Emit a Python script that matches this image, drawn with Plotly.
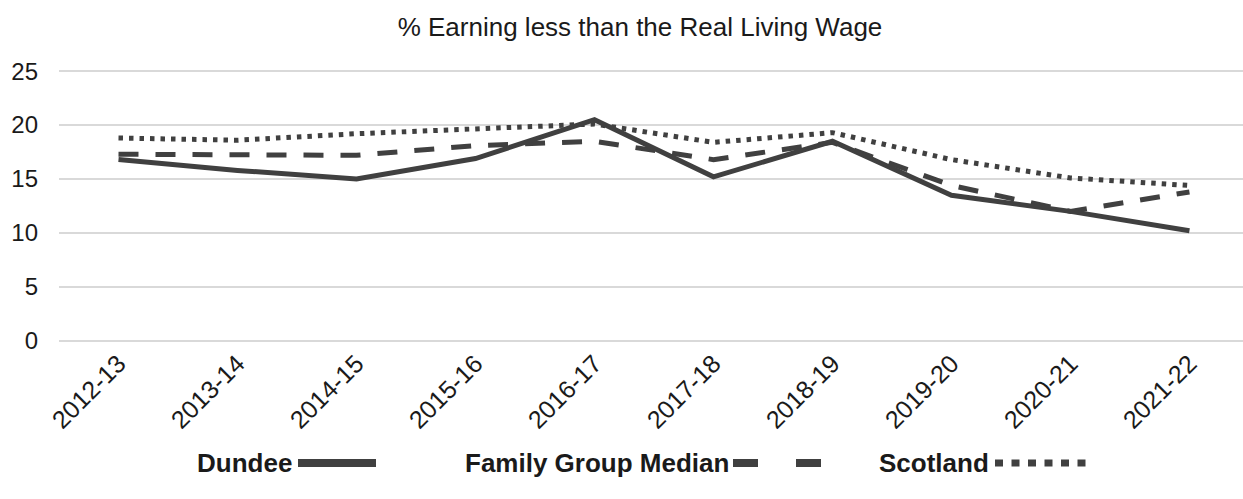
import plotly.graph_objects as go

years = ["2012-13", "2013-14", "2014-15", "2015-16", "2016-17",
         "2017-18", "2018-19", "2019-20", "2020-21", "2021-22"]
dundee = [16.8, 15.8, 15.0, 16.9, 20.5, 15.2, 18.5, 13.5, 12.0, 10.2]
family_median = [17.3, 17.3, 17.2, 18.1, 18.5, 16.8, 18.4, 14.4, 12.0, 13.8]
scotland = [18.8, 18.6, 19.2, 19.6, 20.1, 18.4, 19.3, 16.8, 15.1, 14.4]

line_col = "#404040"
text_col = "#1a1a1a"
font_fam = "Liberation Sans, Arial, sans-serif"

W, H = 1243, 499
T, B = 69, 343            # plot area top / bottom in pixels
PH = B - T

fig = go.Figure()
fig.add_trace(go.Scatter(x=years, y=scotland, mode="lines", name="Scotland",
                         line=dict(color=line_col, width=5, dash="4.5px,6px")))
fig.add_trace(go.Scatter(x=years, y=family_median, mode="lines", name="Family Group Median",
                         line=dict(color=line_col, width=5, dash="20px,17px")))
fig.add_trace(go.Scatter(x=years, y=dundee, mode="lines", name="Dundee",
                         line=dict(color=line_col, width=5)))

# Custom legend (text before symbol, as in the reference)
legend_items = [
    ("Dundee", 294, 298, 376, "solid"),
    ("Family Group Median", 731, 733, 823, "dash"),
    ("Scotland", 991, 995, 1086, "dot"),
]
ly = 463
L0 = 59
PW = W - L0
for text, tx, x0, x1, style in legend_items:
    fig.add_annotation(text="<b>%s</b>" % text, x=(tx - L0) / PW, y=(B - ly) / PH,
                       xref="paper", yref="paper",
                       xanchor="right", yanchor="middle", showarrow=False,
                       font=dict(size=26, color=text_col, family=font_fam))
    dash = {"solid": "solid", "dash": "25px,38px", "dot": "8px,8.5px"}[style]
    fig.add_shape(type="line", xref="paper", yref="paper",
                  x0=(x0 - L0) / PW, x1=(x1 - L0) / PW, y0=(B - ly) / PH, y1=(B - ly) / PH,
                  line=dict(color=line_col, width=8 if style != "dot" else 7, dash=dash))

fig.update_layout(
    width=W, height=H,
    margin=dict(l=L0, r=0, t=T, b=H - B, autoexpand=False),
    paper_bgcolor="white", plot_bgcolor="white",
    showlegend=False,
    font=dict(family=font_fam, color=text_col),
    title=dict(text="% Earning less than the Real Living Wage", x=640 / W, xanchor="center",
               xref="container", y=1 - 27 / H, yanchor="middle",
               font=dict(size=26, color=text_col, family=font_fam)),
    xaxis=dict(type="category", range=[-0.5, 9.45], tickangle=-45, showgrid=False,
               tickfont=dict(size=25, color=text_col), showline=False, zeroline=False,
               ticks="", automargin=False, ticklabelstandoff=0),
    yaxis=dict(range=[-0.2, 25.2], tickvals=[0, 5, 10, 15, 20, 25], showgrid=True,
               gridcolor="#d9d9d9", gridwidth=1.5,
               zeroline=False, showline=False, tickfont=dict(size=24, color=text_col),
               ticklabelstandoff=20, automargin=False),
)

fig.write_html("out.html", config={"displayModeBar": False},
               post_script="document.body.style.margin='0';document.body.style.overflow='hidden';")
